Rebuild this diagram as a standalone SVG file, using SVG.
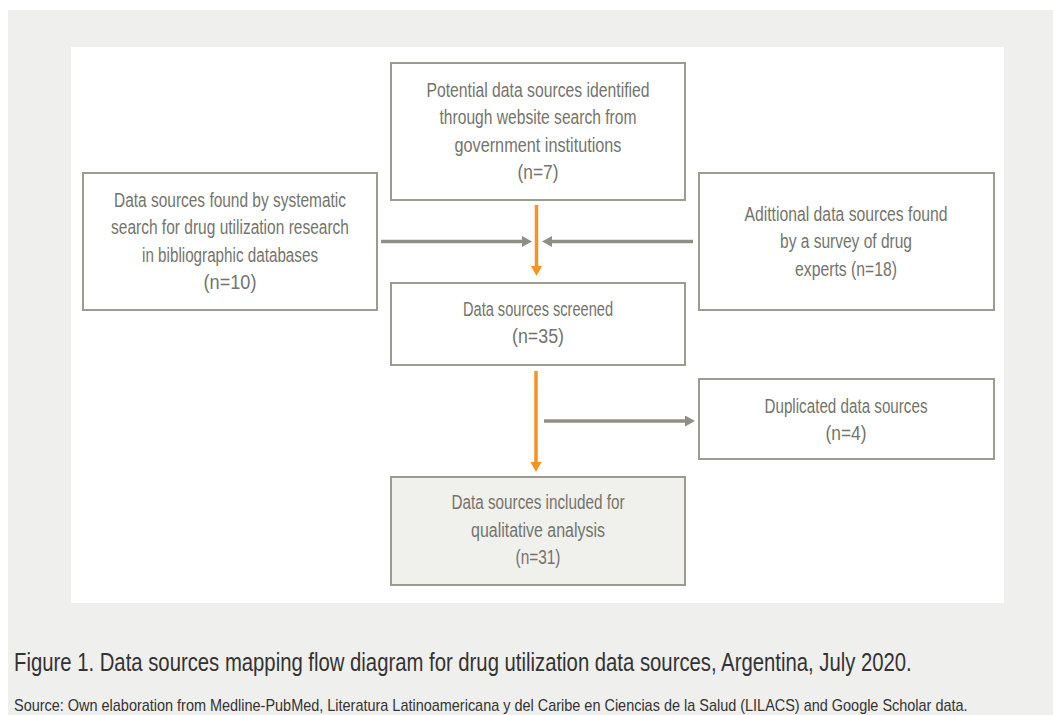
<svg xmlns="http://www.w3.org/2000/svg" width="1053" height="715" viewBox="0 0 1053 715">
<defs>
<style>
.bg{fill:#efefed}
.panel{fill:#ffffff}
.box{fill:#ffffff;stroke:#9b9b90;stroke-width:2}
.boxf{fill:#f0f0ec;stroke:#9b9b90;stroke-width:2}
.t{font-family:"Liberation Sans","DejaVu Sans",sans-serif;font-size:20px;fill:#74746c;text-anchor:middle}
.g{stroke:#8f8f86;stroke-width:3.5;fill:none}
.o{stroke:#f7931e;stroke-width:3.5;fill:none}
.cap{font-family:"Liberation Sans","DejaVu Sans",sans-serif;font-size:25px;fill:#333333}
.src{font-family:"Liberation Sans","DejaVu Sans",sans-serif;font-size:16px;fill:#333333}
</style>
<marker id="ag" viewBox="0 0 10 11" refX="0" refY="5.5" markerWidth="10" markerHeight="11" markerUnits="userSpaceOnUse" orient="auto"><path d="M0,0 L10,5.5 L0,11 z" fill="#8f8f86"/></marker>
<marker id="ao" viewBox="0 0 10 11" refX="0" refY="5.5" markerWidth="10" markerHeight="11" markerUnits="userSpaceOnUse" orient="auto"><path d="M0,0 L10,5.5 L0,11 z" fill="#f7931e"/></marker>
</defs>
<rect class="bg" x="8" y="10" width="1045" height="705"/>
<rect class="panel" x="71" y="47" width="933" height="556"/>
<g id="connectors">
<line class="o" x1="536.5" y1="205" x2="536.5" y2="266" marker-end="url(#ao)"/>
<line class="g" x1="381" y1="241.5" x2="522" y2="241.5" marker-end="url(#ag)"/>
<line class="g" x1="693" y1="241.5" x2="552" y2="241.5" marker-end="url(#ag)"/>
<line class="o" x1="536" y1="371" x2="536" y2="462" marker-end="url(#ao)"/>
<line class="g" x1="544" y1="421" x2="685" y2="421" marker-end="url(#ag)"/>
</g>
<g id="n-website">
<rect class="box" x="391" y="63" width="294" height="137"/>
<text class="t" x="538" y="97" textLength="223" lengthAdjust="spacingAndGlyphs">Potential data sources identified</text>
<text class="t" x="538" y="124" textLength="197" lengthAdjust="spacingAndGlyphs">through website search from</text>
<text class="t" x="538" y="152" textLength="167" lengthAdjust="spacingAndGlyphs">government institutions</text>
<text class="t" x="538" y="179" textLength="41" lengthAdjust="spacingAndGlyphs">(n=7)</text>
</g>
<g id="n-systematic">
<rect class="box" x="83" y="173" width="294" height="137"/>
<text class="t" x="230" y="207" textLength="232" lengthAdjust="spacingAndGlyphs">Data sources found by systematic</text>
<text class="t" x="230" y="234" textLength="238" lengthAdjust="spacingAndGlyphs">search for drug utilization research</text>
<text class="t" x="230" y="262" textLength="176" lengthAdjust="spacingAndGlyphs">in bibliographic databases</text>
<text class="t" x="230" y="289" textLength="53" lengthAdjust="spacingAndGlyphs">(n=10)</text>
</g>
<g id="n-survey">
<rect class="box" x="699" y="173" width="295" height="137"/>
<text class="t" x="846" y="221" textLength="203" lengthAdjust="spacingAndGlyphs">Adittional data sources found</text>
<text class="t" x="846" y="248" textLength="132" lengthAdjust="spacingAndGlyphs">by a survey of drug</text>
<text class="t" x="846" y="276" textLength="102" lengthAdjust="spacingAndGlyphs">experts (n=18)</text>
</g>
<g id="n-screened">
<rect class="box" x="391" y="283" width="294" height="82"/>
<text class="t" x="538" y="316" textLength="150" lengthAdjust="spacingAndGlyphs">Data sources screened</text>
<text class="t" x="538" y="343" textLength="52" lengthAdjust="spacingAndGlyphs">(n=35)</text>
</g>
<g id="n-duplicated">
<rect class="box" x="699" y="379" width="295" height="80"/>
<text class="t" x="846" y="413" textLength="163" lengthAdjust="spacingAndGlyphs">Duplicated data sources</text>
<text class="t" x="846" y="440" textLength="41" lengthAdjust="spacingAndGlyphs">(n=4)</text>
</g>
<g id="n-included">
<rect class="boxf" x="391" y="477" width="294" height="108"/>
<text class="t" x="538" y="509" textLength="173" lengthAdjust="spacingAndGlyphs">Data sources included for</text>
<text class="t" x="538" y="537" textLength="134" lengthAdjust="spacingAndGlyphs">qualitative analysis</text>
<text class="t" x="538" y="564" textLength="45" lengthAdjust="spacingAndGlyphs">(n=31)</text>
</g>
<text class="cap" transform="translate(14,671) scale(0.75,1)" x="0" y="0" textLength="1197" lengthAdjust="spacingAndGlyphs">Figure 1. Data sources mapping flow diagram for drug utilization data sources, Argentina, July 2020.</text>
<text class="src" transform="translate(14,711) scale(0.8,1)" x="0" y="0" textLength="1192" lengthAdjust="spacingAndGlyphs">Source: Own elaboration from Medline-PubMed, Literatura Latinoamericana y del Caribe en Ciencias de la Salud (LILACS) and Google Scholar data.</text>
</svg>
